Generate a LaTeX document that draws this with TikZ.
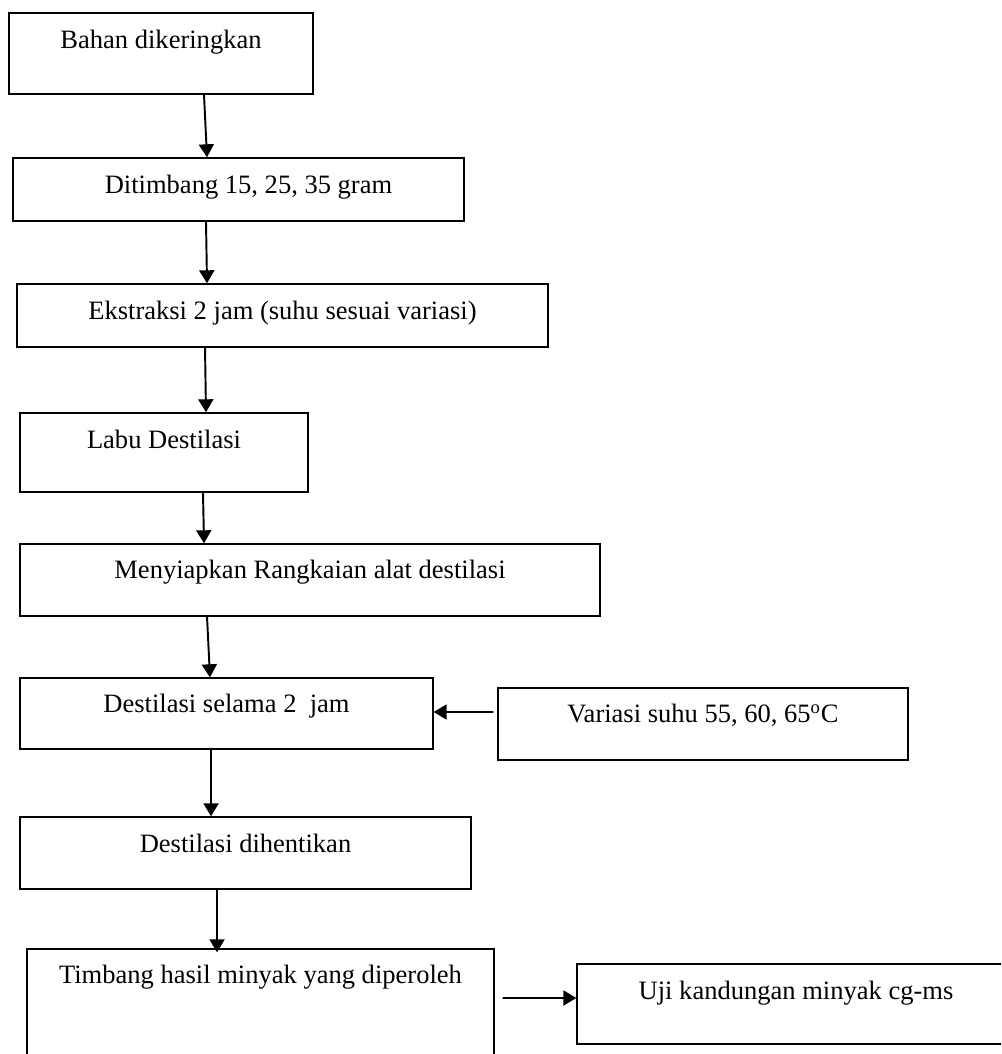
\documentclass[tikz,border=0pt]{standalone}
\usepackage{fontspec}
\setmainfont{Liberation Serif}
\usepackage{tikz}
\usetikzlibrary{arrows.meta}

\begin{document}
\begin{tikzpicture}[x=0.02cm,y=-0.02cm,
  stepbox/.style={rectangle,draw,line width=0.8pt,inner sep=0pt},
  lbl/.style={anchor=base,inner sep=0pt,font=\fontsize{15.1}{18}\selectfont},
  flow/.style={line width=1.1pt,-{Triangle[length=0.26cm,width=0.3cm]}}]

\useasboundingbox (0,0) rectangle (1001,1054);
\clip (0,0) rectangle (1001,1054);

% drying node
\node[stepbox,minimum width=6.08cm,minimum height=1.62cm] (dry) at (161,53.5) {};
\node[lbl] (dryt) at ([yshift=-0.72cm]dry.north) {Bahan dikeringkan};

% weighing node
\node[stepbox,minimum width=9.02cm,minimum height=1.26cm] (weigh) at (238.5,189.5) {};
\node[lbl] (weight) at ([xshift=0.2cm,yshift=-0.72cm]weigh.north) {Ditimbang 15, 25, 35 gram};

% extraction node
\node[stepbox,minimum width=10.62cm,minimum height=1.26cm] (extract) at (282.5,315.5) {};
\node[lbl] (extractt) at ([yshift=-0.72cm]extract.north) {Ekstraksi 2 jam (suhu sesuai variasi)};

% flask node
\node[stepbox,minimum width=5.76cm,minimum height=1.58cm] (flask) at (164,452.5) {};
\node[lbl] (flaskt) at ([yshift=-0.72cm]flask.north) {Labu Destilasi};

% setup node
\node[stepbox,minimum width=11.6cm,minimum height=1.44cm] (setup) at (310,580) {};
\node[lbl] (setupt) at ([yshift=-0.70cm]setup.north) {Menyiapkan Rangkaian alat destilasi};

% distillation node
\node[stepbox,minimum width=8.26cm,minimum height=1.42cm] (distil) at (226.5,713.5) {};
\node[lbl] (distilt) at ([yshift=-0.70cm]distil.north) {Destilasi selama 2~ jam};

% temperature node
\node[stepbox,minimum width=8.2cm,minimum height=1.44cm] (temp) at (703,724) {};
\node[lbl] (tempt) at ([yshift=-0.70cm]temp.north) {Variasi suhu 55, 60, 65\textsuperscript{o}C};

% stop node
\node[stepbox,minimum width=9.02cm,minimum height=1.44cm] (stop) at (245.5,853) {};
\node[lbl] (stopt) at ([yshift=-0.72cm]stop.north) {Destilasi dihentikan};

% oil weighing node
\node[stepbox,minimum width=9.34cm,minimum height=2.42cm] (weighoil) at (260.5,1009.5) {};
\node[lbl] (weighoilt) at ([yshift=-0.70cm]weighoil.north) {Timbang hasil minyak yang diperoleh};

% gc-ms node
\node[stepbox,minimum width=8.76cm,minimum height=1.6cm] (gcms) at (796,1004) {};
\node[lbl] (gcmst) at ([yshift=-0.72cm]gcms.north) {Uji kandungan minyak cg-ms};

\draw[flow] ([xshift=0.86cm]dry.south) -- ([xshift=-0.63cm]weigh.north);
\draw[flow] ([xshift=-0.65cm]weigh.south) -- ([xshift=-1.51cm]extract.north);
\draw[flow] ([xshift=-1.55cm]extract.south) -- ([xshift=0.84cm]flask.north);
\draw[flow] ([xshift=0.78cm]flask.south) -- ([xshift=-2.12cm]setup.north);
\draw[flow] ([xshift=-2.06cm]setup.south) -- ([xshift=-0.33cm]distil.north);
\draw[flow] ([xshift=-0.31cm]distil.south) -- ([xshift=-0.69cm]stop.north);
\draw[flow] ([xshift=-0.08cm,yshift=0.24cm]temp.west) -- ([yshift=0.03cm]distil.east);
\draw[flow] ([xshift=-0.57cm]stop.south) -- ([xshift=-0.87cm,yshift=-0.08cm]weighoil.north);
\draw[flow] ([xshift=0.16cm,yshift=0.23cm]weighoil.east) -- ([yshift=0.12cm]gcms.west);

\end{tikzpicture}
\end{document}
